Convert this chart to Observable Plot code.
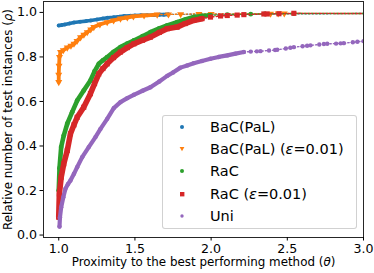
<!DOCTYPE html>
<html><head><meta charset="utf-8">
<script src="https://cdn.jsdelivr.net/npm/d3@7"></script>
<script src="https://cdn.jsdelivr.net/npm/@observablehq/plot@0.6"></script>
<style>
body{margin:0;background:#fff;}
#wrap{position:relative;width:374px;height:273px;font-family:"DejaVu Sans",sans-serif;}
#legend{position:absolute;left:162px;top:115px;width:193px;height:112px;border:1px solid rgba(204,204,204,0.9);border-radius:3px;background:rgba(255,255,255,0.8);font-size:14.5px;color:#000;z-index:2;}
.row{position:absolute;left:0;height:22px;line-height:22px;white-space:nowrap;width:100%;}
.row svg{position:absolute;left:14px;top:6px;}
.row span{position:absolute;left:47px;top:0;}
</style></head><body><div id="wrap"><div id="legend"></div></div>
<script>
const xTicks = [1.0, 1.5, 2.0, 2.5, 3.0];
const yTicks = [0.0, 0.2, 0.4, 0.6, 0.8, 1.0];
const xLabel = "Proximity to the best performing method (θ)";
const yLabel = "Relative number of test instances (ρ)";
const seriesNames = ["BaC(PaL)", "BaC(PaL) (ε=0.01)", "RaC", "RaC (ε=0.01)", "Uni"];
const seriesColors = ["#1f77b4", "#ff7f0e", "#2ca02c", "#d62728", "#9467bd"];
const thetaMax = 3.0;
const rhoFinal = 0.995;

// BaC(PaL)
const bacTheta = [1.0, 1.02, 1.04, 1.07, 1.1, 1.14, 1.18, 1.21, 1.25, 1.29, 1.32, 1.36, 1.4, 1.43, 1.47, 1.5, 1.54, 1.58, 1.62, 1.66, 1.69, 1.72];
const bacRho   = [0.941, 0.943, 0.946, 0.95, 0.955, 0.958, 0.961, 0.964, 0.968, 0.973, 0.976, 0.978, 0.981, 0.984, 0.985, 0.986, 0.987, 0.987, 0.988, 0.99, 0.99, 0.991];
const bacTailTheta = [];
const bacTailRho = [];

// BaC(PaL) (eps=0.01)
const bacEpsTheta = [1.0, 1.0, 1.002, 1.005, 1.012, 1.03, 1.056, 1.08, 1.1, 1.12, 1.143, 1.165, 1.187, 1.21, 1.23, 1.27, 1.318, 1.36, 1.405, 1.45, 1.49, 1.56, 1.646];
const bacEpsRho   = [0.687, 0.72, 0.76, 0.8, 0.822, 0.83, 0.842, 0.85, 0.859, 0.872, 0.888, 0.9, 0.911, 0.923, 0.934, 0.946, 0.956, 0.964, 0.972, 0.977, 0.982, 0.986, 0.99];
const bacEpsTailTheta = [1.72, 1.8, 1.92, 2.0, 2.39, 2.44, 2.48];
const bacEpsTailRho   = [0.991, 0.992, 0.993, 0.993, 0.994, 0.995, 0.995];

// RaC
const racTheta = [1.0, 1.005, 1.016, 1.033, 1.056, 1.088, 1.121, 1.164, 1.208, 1.235, 1.263, 1.29, 1.318, 1.36, 1.405, 1.45, 1.493, 1.55, 1.602, 1.66, 1.712, 1.777, 1.83, 1.886, 1.94, 1.996];
const racRho   = [0.2, 0.3, 0.395, 0.447, 0.5, 0.552, 0.604, 0.649, 0.694, 0.735, 0.769, 0.785, 0.799, 0.823, 0.844, 0.86, 0.874, 0.893, 0.911, 0.928, 0.942, 0.956, 0.968, 0.979, 0.984, 0.987];
const racTailTheta = [2.106, 2.26, 2.35, 2.543];
const racTailRho   = [0.99, 0.992, 0.993, 0.995];

// RaC (eps=0.01)
const racEpsTheta = [1.0, 1.004, 1.016, 1.033, 1.056, 1.077, 1.1, 1.121, 1.164, 1.208, 1.235, 1.263, 1.29, 1.318, 1.36, 1.405, 1.45, 1.493, 1.55, 1.602, 1.66, 1.712, 1.777, 1.83, 1.886, 1.94];
const racEpsRho   = [0.08, 0.185, 0.26, 0.32, 0.38, 0.455, 0.495, 0.529, 0.574, 0.635, 0.68, 0.724, 0.748, 0.769, 0.797, 0.822, 0.842, 0.859, 0.875, 0.889, 0.91, 0.927, 0.934, 0.95, 0.964, 0.972];
const racEpsTailTheta = [1.996, 2.062, 2.106, 2.171, 2.215, 2.346, 2.368, 2.445, 2.543];
const racEpsTailRho   = [0.979, 0.984, 0.986, 0.988, 0.99, 0.993, 0.993, 0.994, 0.996];

// Uni
const uniTheta = [1.005, 1.008, 1.016, 1.03, 1.044, 1.06, 1.077, 1.1, 1.121, 1.154, 1.197, 1.241, 1.274, 1.318, 1.361, 1.405, 1.45, 1.493, 1.55, 1.602, 1.66, 1.712, 1.75, 1.799, 1.843, 1.886, 1.94, 1.996, 2.05, 2.106, 2.16, 2.215];
const uniRho   = [0.038, 0.08, 0.125, 0.17, 0.208, 0.228, 0.245, 0.275, 0.305, 0.35, 0.395, 0.44, 0.477, 0.522, 0.57, 0.597, 0.615, 0.63, 0.648, 0.664, 0.69, 0.715, 0.73, 0.752, 0.762, 0.772, 0.782, 0.792, 0.8, 0.807, 0.815, 0.822];
const uniTailTheta = [2.26, 2.3, 2.324, 2.38, 2.42, 2.434, 2.49, 2.52, 2.543, 2.6, 2.63, 2.652, 2.71, 2.74, 2.762, 2.82, 2.85, 2.871, 2.93, 2.96, 3.0];
const uniTailRho   = [0.824, 0.825, 0.826, 0.829, 0.831, 0.832, 0.838, 0.841, 0.844, 0.848, 0.85, 0.852, 0.856, 0.858, 0.859, 0.86, 0.861, 0.862, 0.866, 0.868, 0.871];

const triangleDown = {
  draw(context, size) {
    const a = Math.sqrt(4 * size / Math.sqrt(3));
    const h = a * Math.sqrt(3) / 2;
    context.moveTo(0, 2 * h / 3);
    context.lineTo(-a / 2, -h / 3);
    context.lineTo(a / 2, -h / 3);
    context.closePath();
  }
};

const zip = (xs, ys) => xs.map((x, i) => ({theta: x, rho: ys[i]}));

const series = [
  {dense: zip(bacTheta, bacRho), tail: zip(bacTailTheta, bacTailRho), symbol: "circle", r: 2.0, width: 3.6, toEnd: true},
  {dense: zip(bacEpsTheta, bacEpsRho), tail: zip(bacEpsTailTheta, bacEpsTailRho), symbol: triangleDown, r: 2.6, width: 3.8, toEnd: true},
  {dense: zip(racTheta, racRho), tail: zip(racTailTheta, racTailRho), symbol: "circle", r: 2.4, width: 4.6, toEnd: true},
  {dense: zip(racEpsTheta, racEpsRho), tail: zip(racEpsTailTheta, racEpsTailRho), symbol: "square", r: 2.9, width: 5.6, toEnd: true},
  {dense: zip(uniTheta, uniRho), tail: zip(uniTailTheta, uniTailRho), symbol: "circle", r: 2.2, width: 4.2, toEnd: false}
].map((s, i) => ({...s, name: seriesNames[i], color: seriesColors[i]}));

const marks = [];
series.forEach(s => {
  const last = s.dense[s.dense.length - 1];
  const dotted = [last, ...s.tail];
  if (s.toEnd) dotted.push({theta: thetaMax, rho: rhoFinal});
  marks.push(Plot.line(dotted, {x: "theta", y: "rho", stroke: s.color, strokeWidth: 1.4, strokeDasharray: "1.4,2.2", clip: true}));
  marks.push(Plot.line(s.dense, {x: "theta", y: "rho", stroke: s.color, strokeWidth: s.width, strokeLinecap: "round", strokeLinejoin: "round", clip: true}));
  marks.push(Plot.dot(s.dense, {x: "theta", y: "rho", fill: s.color, r: s.r, symbol: s.symbol, clip: true}));
  marks.push(Plot.dot(s.tail, {x: "theta", y: "rho", fill: s.color, r: s.r, symbol: s.symbol, clip: true}));
});

const chart = Plot.plot({
  width: 374,
  height: 273,
  marginLeft: 43,
  marginRight: 11,
  marginTop: 1,
  marginBottom: 36,
  style: {fontFamily: "DejaVu Sans", fontSize: "12.6px", color: "#000", background: "#fff"},
  x: {domain: [0.9, 3.0]},
  y: {domain: [-0.011, 1.049]},
  marks: [
    ...marks,
    Plot.frame({stroke: "#262626", strokeWidth: 1}),
    Plot.axisX({ticks: xTicks, tickFormat: d3.format(".1f"), tickSize: 3.5, tickPadding: 3, label: null}),
    Plot.axisY({ticks: yTicks, tickFormat: d3.format(".1f"), tickSize: 3.5, tickPadding: 3, label: null}),
    Plot.text([xLabel], {text: d => d, frameAnchor: "bottom", textAnchor: "middle", dy: 28, fontSize: 11.9, className: "axlabel"}),
    Plot.text([yLabel], {text: d => d, frameAnchor: "left", textAnchor: "middle", rotate: -90, dx: -35, fontSize: 11.9, className: "axlabel"})
  ]
});
const wrap = document.getElementById("wrap");
wrap.insertBefore(chart, wrap.firstChild);

// italic Greek symbols (as in mathtext)
chart.querySelectorAll(".axlabel text").forEach(t => {
  const s = t.textContent;
  const m = s.match(/^(.*\()(.)(\))$/);
  if (m) {
    t.textContent = "";
    const ns = "http://www.w3.org/2000/svg";
    [[m[1], null], [m[2], "italic"], [m[3], null]].forEach(([str, st]) => {
      const ts = document.createElementNS(ns, "tspan");
      ts.textContent = str;
      if (st) ts.setAttribute("font-style", st);
      t.appendChild(ts);
    });
  }
});

// legend
const legend = document.getElementById("legend");
const markerSvg = (s) => {
  const c = s.color;
  let shape;
  if (s.symbol === "square") shape = `<rect x="3" y="3" width="4.4" height="4.4" fill="${c}"/>`;
  else if (s.symbol === triangleDown) shape = `<path d="M2.6,3 L7.4,3 L5,7.2 Z" fill="${c}"/>`;
  else shape = `<circle cx="5" cy="5" r="${s.name === "Uni" ? 1.7 : 2}" fill="${c}"/>`;
  return `<svg width="10" height="10" viewBox="0 0 10 10">${shape}</svg>`;
};
series.forEach((s, i) => {
  const row = document.createElement("div");
  row.className = "row";
  row.style.top = (i * 22.2) + "px";
  const label = s.name.replace("ε", "<i>ε</i>");
  row.innerHTML = markerSvg(s) + `<span>${label}</span>`;
  legend.appendChild(row);
});
</script></body></html>
